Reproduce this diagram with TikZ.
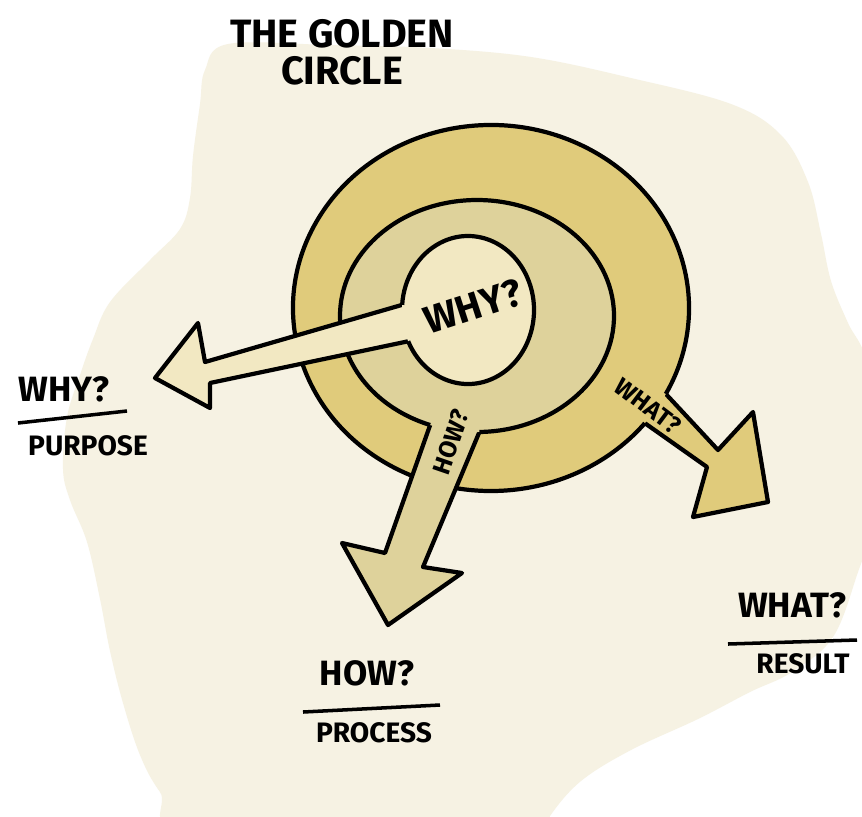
\documentclass[tikz,border=0pt]{standalone}
\usepackage{fontspec}
\setmainfont{Fira Sans}
\usetikzlibrary{calc}
\definecolor{PaperBG}{HTML}{F6F2E3}
\definecolor{RingOut}{HTML}{E0CB7B}
\definecolor{RingMid}{HTML}{DED29B}
\definecolor{RingIn}{HTML}{F2E8C2}

\begin{document}
\begin{tikzpicture}[x=0.02cm, y=0.02cm, line width=2.4pt, line join=round,
    every node/.style={font=\bfseries},
    ttl/.style={font=\bfseries\fontsize{22.5}{21}\selectfont, align=center},
    lbl/.style={font=\bfseries\fontsize{20}{22}\selectfont},
    sublbl/.style={font=\bfseries\fontsize{16}{18}\selectfont},
    onarrow/.style={font=\bfseries\fontsize{14}{16}\selectfont}]
  \useasboundingbox (0,0) rectangle (862,-816);
  \clip (0,0) rectangle (862,-816);
  \fill[white] (0,0) rectangle (862,-816);
  % paper blob
  \fill[PaperBG] plot[smooth cycle, tension=0.6] coordinates {
    (205,-70) (228,-44) (330,-45) (431,-48) (531,-57) (631,-78) (731,-104)
    (781,-135) (808,-182) (821,-234) (831,-281) (848,-323) (866,-360)
    (876,-440) (874,-520) (858,-572) (833,-637) (792,-672) (750,-692)
    (698,-719) (631,-750) (581,-781) (550,-816) (540,-840) (200,-840)
    (160,-792) (140,-755) (123,-703) (110,-651) (100,-599) (87,-542)
    (70,-500) (63,-469) (67,-417) (80,-375) (93,-339) (110,-302)
    (150,-260) (180,-229) (190,-198) (193,-156) (200,-104)};

  \coordinate (oc) at (491,-308);
  \coordinate (mc) at (477,-316);
  \coordinate (ic) at (468,-310);

  % outer ring with the WHAT arrow
  \filldraw[fill=RingOut] ($(oc)+(-28:198 and 183)$) -- (718,-450) -- (753,-412)
    -- (768,-502) -- (693,-517) -- (707,-467) -- ($(oc)+(-39:198 and 183)$)
    -- (oc) -- cycle;
  \fill[RingOut] (oc) ellipse[x radius=198, y radius=183];
  \draw ($(oc)+(-28:198 and 183)$) arc[start angle=-28, end angle=321,
    x radius=198, y radius=183];

  % middle ring with the HOW arrow
  \filldraw[fill=RingMid] ($(mc)+(-110:137 and 116)$) -- (385,-553) -- (342,-543)
    -- (388,-625) -- (462,-573) -- (423,-567) -- ($(mc)+(-89:137 and 116)$)
    -- (mc) -- cycle;
  \fill[RingMid] (mc) ellipse[x radius=137, y radius=116];
  \draw ($(mc)+(-89:137 and 116)$) arc[start angle=-89, end angle=250,
    x radius=137, y radius=116];

  % inner circle with the WHY arrow
  \filldraw[fill=RingIn] ($(ic)+(176:66 and 74)$) -- (205,-362) -- (198,-323)
    -- (155,-378) -- (210,-408) -- (210,-383) -- ($(ic)+(205:66 and 74)$)
    -- (ic) -- cycle;
  \fill[RingIn] (ic) ellipse[x radius=66, y radius=74];
  \draw ($(ic)+(205:66 and 74)$) arc[start angle=205, end angle=536,
    x radius=66, y radius=74];

  % texts on the rings
  \node[font=\bfseries\fontsize{22}{24}\selectfont, rotate=18] (whyC) at (473,-306) {WHY?};
  \node[onarrow, rotate=71] (howS) at (451,-442) {HOW?};
  \node[onarrow, rotate=-37, inner sep=0pt] (whatS) at (648,-406) {WHAT?};

  % title
  \node[ttl] (title) at (342,-52) {THE GOLDEN\\CIRCLE};

  % side labels
  \node[lbl] (whyL) at (64,-389) {WHY?};
  \draw[line width=2pt] (18,-423) -- (127,-411);
  \node[sublbl] (purpose) at (88,-446) {PURPOSE};

  \node[lbl] (howL) at (367,-673) {HOW?};
  \draw[line width=2pt] (303,-712) -- (440,-705);
  \node[sublbl] (process) at (374,-733) {PROCESS};

  \node[lbl] (whatL) at (792,-605) {WHAT?};
  \draw[line width=2pt] (728,-644) -- (857,-640);
  \node[sublbl] (result) at (803,-664) {RESULT};
\end{tikzpicture}
\end{document}
